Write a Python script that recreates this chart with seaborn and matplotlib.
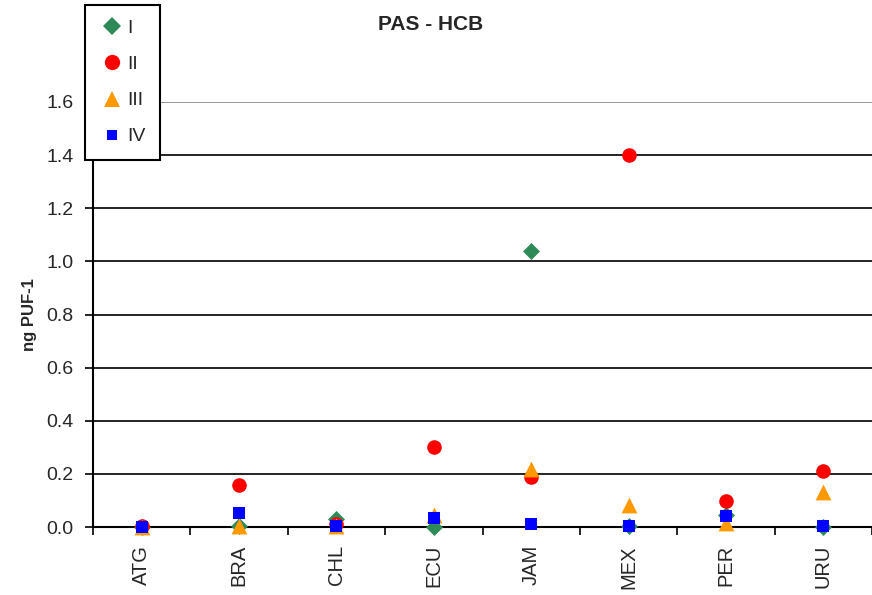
import matplotlib
matplotlib.use("Agg")
import matplotlib.pyplot as plt
from matplotlib.lines import Line2D
from matplotlib.ticker import FixedLocator
import seaborn as sns
import pandas as pd

sns.set_theme(style="white")
plt.rcParams["font.family"] = ["Liberation Sans", "DejaVu Sans"]

countries = ["ATG", "BRA", "CHL", "ECU", "JAM", "MEX", "PER", "URU"]
series_names = ["I", "II", "III", "IV"]
vals_I = [0.0, 0.005, 0.03, 0.0, 1.04, 0.005, 0.045, 0.0]
vals_II = [0.005, 0.16, 0.01, 0.30, 0.19, 1.40, 0.098, 0.21]
vals_III = [0.0, 0.005, 0.005, 0.045, 0.22, 0.083, 0.015, 0.133]
vals_IV = [0.0, 0.054, 0.005, 0.035, 0.01, 0.005, 0.043, 0.005]
yticks = [0.0, 0.2, 0.4, 0.6, 0.8, 1.0, 1.2, 1.4, 1.6]

colors = {"I": "#2e8b57", "II": "#ff0000", "III": "#ff9900", "IV": "#0000ff"}
markers = {"I": "D", "II": "o", "III": "^", "IV": "s"}
msize = {"I": 75, "II": 110, "III": 130, "IV": 65}
legend_msize = {"I": 9, "II": 11, "III": 12, "IV": 7}

df = pd.DataFrame({
    "country": countries * 4,
    "series": sum([[s] * len(countries) for s in series_names], []),
    "value": vals_I + vals_II + vals_III + vals_IV,
})

fig = plt.figure(figsize=(8.72, 5.95), dpi=100)
ax = fig.add_axes([93 / 872, 1 - 527 / 595, 1 - 93 / 872, (527 - 102) / 595])

for s in series_names:
    sub = df[df["series"] == s]
    sns.scatterplot(data=sub, x="country", y="value", ax=ax, color=colors[s],
                    marker=markers[s], s=msize[s], linewidth=0, clip_on=False,
                    zorder=3, legend=False)

ax.set_xlim(-0.5, len(countries) - 0.5)
ax.set_ylim(0, 1.6)
ax.set_yticks(yticks)
ax.set_yticklabels([f"{t:.1f}" for t in yticks], fontsize=14)
ax.set_xticks(range(len(countries)))
ax.set_xticklabels(countries, rotation=90, fontsize=14.5)
ax.xaxis.set_minor_locator(FixedLocator([i - 0.5 for i in range(len(countries) + 1)]))
ax.tick_params(axis="x", which="major", length=0, pad=13)
ax.tick_params(axis="x", which="minor", length=6, width=1.2, color="black", direction="out", bottom=True)
ax.tick_params(axis="y", length=6, width=1.2, color="black", direction="out", left=True, pad=8)

for t in yticks[1:-1]:
    ax.axhline(t, color="black", linewidth=1.2, zorder=1)
ax.axhline(1.6, color="#888888", linewidth=1.2, zorder=1)

for side in ["top", "right"]:
    ax.spines[side].set_visible(False)
for side in ["left", "bottom"]:
    ax.spines[side].set_color("black")
    ax.spines[side].set_linewidth(1.5)

ax.set_xlabel("")
ax.set_ylabel("ng PUF-1", fontsize=12, fontweight="bold")
ax.yaxis.set_label_coords((37 - 93) / 779, 0.5)

fig.text(431 / 872, 1 - 25 / 595, "PAS - HCB", ha="center", va="center",
         fontsize=15, fontweight="bold")

handles = [Line2D([0], [0], marker=markers[s], color="none", markerfacecolor=colors[s],
                  markeredgewidth=0, markersize=legend_msize[s])
           for s in series_names]
leg = fig.legend(handles, series_names, loc="upper left",
                 bbox_to_anchor=(85 / 872, 1 - 5 / 595), frameon=True, fancybox=False,
                 edgecolor="black", framealpha=1, facecolor="white", fontsize=14,
                 handlelength=1.3, handletextpad=0.1, labelspacing=0.95,
                 borderpad=0.75, borderaxespad=0)
leg.get_frame().set_linewidth(1.5)
leg.set_zorder(10)

fig.savefig("out.png", dpi=100, facecolor="white")
